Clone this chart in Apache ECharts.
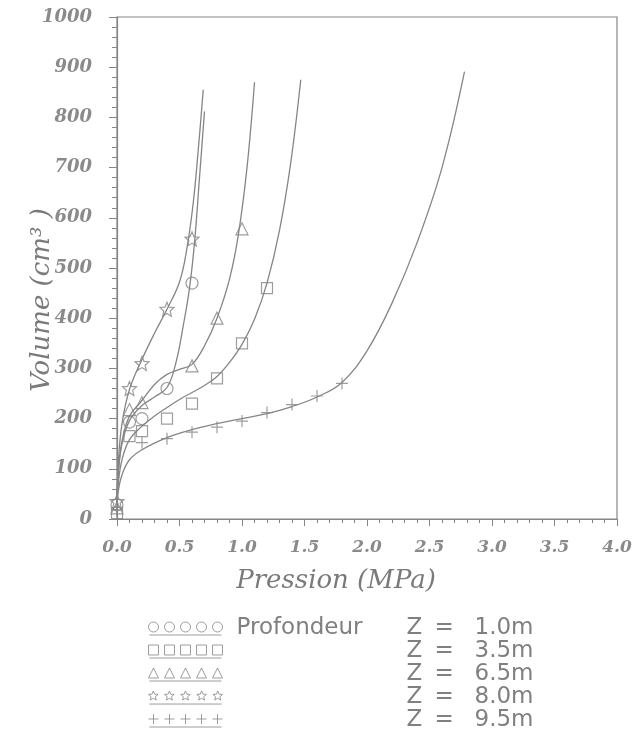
<!DOCTYPE html>
<html>
<head>
<meta charset="utf-8">
<script src="https://cdn.jsdelivr.net/npm/echarts@6/dist/echarts.min.js"></script>
<style>
  html, body { margin: 0; padding: 0; background: #fff; }
  #main { width: 644px; height: 742px; }
</style>
</head>
<body>
<div id="main"></div>
<script>
// measured points (Pression MPa, Volume cm3)
const circleP = [0, 0.1, 0.2, 0.4, 0.6];
const circleV = [28, 193, 200, 260, 470];
const squareP = [0, 0.1, 0.2, 0.4, 0.6, 0.8, 1.0, 1.2];
const squareV = [12, 165, 175, 200, 230, 280, 350, 460];
const triangleP = [0, 0.1, 0.2, 0.6, 0.8, 1.0];
const triangleV = [22, 218, 232, 305, 400, 578];
const starP = [0, 0.1, 0.2, 0.4, 0.6];
const starV = [35, 260, 310, 418, 558];
const plusP = [0, 0.2, 0.4, 0.6, 0.8, 1.0, 1.2, 1.4, 1.6, 1.8];
const plusV = [18, 152, 160, 173, 183, 195, 212, 228, 245, 270];

// fitted curves
const circleCurveP = [0, 0.01, 0.04, 0.1, 0.2, 0.3, 0.4, 0.47, 0.53, 0.58, 0.62, 0.66, 0.70];
const circleCurveV = [30, 90, 150, 196, 226, 243, 262, 310, 385, 460, 550, 680, 812];
const squareCurveP = [0, 0.01, 0.04, 0.1, 0.2, 0.3, 0.4, 0.5, 0.6, 0.7, 0.8, 0.9, 1.0, 1.1, 1.2, 1.3, 1.39, 1.47];
const squareCurveV = [30, 70, 118, 158, 185, 205, 222, 238, 252, 266, 284, 312, 348, 398, 470, 575, 710, 875];
const triangleCurveP = [0, 0.01, 0.04, 0.1, 0.2, 0.3, 0.4, 0.5, 0.6, 0.7, 0.8, 0.9, 0.97, 1.04, 1.1];
const triangleCurveV = [30, 90, 155, 205, 236, 268, 288, 298, 308, 345, 400, 478, 565, 700, 870];
const starCurveP = [0, 0.01, 0.04, 0.1, 0.2, 0.3, 0.4, 0.5, 0.56, 0.61, 0.65, 0.69];
const starCurveV = [30, 110, 190, 258, 318, 370, 418, 472, 540, 630, 735, 855];
const plusCurveP = [0, 0.01, 0.04, 0.1, 0.2, 0.4, 0.6, 0.8, 1.0, 1.2, 1.4, 1.6, 1.8, 2.0, 2.2, 2.4, 2.6, 2.78];
const plusCurveV = [30, 55, 88, 118, 138, 162, 178, 190, 200, 210, 224, 243, 272, 335, 430, 550, 700, 891];

const depthNames = ['Z = 1.0m', 'Z = 3.5m', 'Z = 6.5m', 'Z = 8.0m', 'Z = 9.5m'];
const xTicks = ['0.0', '0.5', '1.0', '1.5', '2.0', '2.5', '3.0', '3.5', '4.0'];

const ink = '#858585';
const textInk = '#7a7a7a';

function zip(a, b) {
  return a.map(function (v, i) { return [v, b[i]]; });
}

// small shape paths (centre cx,cy, radius r)
function shape(kind, cx, cy, r) {
  if (kind === 'circle') {
    return 'M' + (cx - r) + ',' + cy + ' a' + r + ',' + r + ' 0 1,0 ' + (2 * r) + ',0 a' + r + ',' + r + ' 0 1,0 ' + (-2 * r) + ',0 Z';
  }
  if (kind === 'square') {
    return 'M' + (cx - r) + ',' + (cy - r) + ' h' + (2 * r) + ' v' + (2 * r) + ' h' + (-2 * r) + ' Z';
  }
  if (kind === 'triangle') {
    return 'M' + cx + ',' + (cy - r) + ' L' + (cx + r) + ',' + (cy + r) + ' L' + (cx - r) + ',' + (cy + r) + ' Z';
  }
  if (kind === 'star') {
    let d = '';
    for (let k = 0; k < 10; k++) {
      const rr = k % 2 === 0 ? r : r * 0.45;
      const a = -Math.PI / 2 + k * Math.PI / 5;
      d += (k === 0 ? 'M' : 'L') + (cx + rr * Math.cos(a)).toFixed(2) + ',' + (cy + rr * Math.sin(a)).toFixed(2) + ' ';
    }
    return d + 'Z';
  }
  // plus
  return 'M' + (cx - r) + ',' + cy + ' L' + (cx + r) + ',' + cy + ' M' + cx + ',' + (cy - r) + ' L' + cx + ',' + (cy + r);
}

function symbolPath(kind) {
  return 'path://' + shape(kind, 6, 6, 6);
}

function legendIcon(kind) {
  let d = '';
  for (let k = 0; k < 5; k++) {
    d += shape(kind, 5 + k * 16, 5, 5) + ' ';
  }
  d += 'M1,13 L73,13';
  return 'path://' + d;
}

const kinds = ['circle', 'square', 'triangle', 'star', 'plus'];
const points = [zip(circleP, circleV), zip(squareP, squareV), zip(triangleP, triangleV), zip(starP, starV), zip(plusP, plusV)];
const curves = [zip(circleCurveP, circleCurveV), zip(squareCurveP, squareCurveV), zip(triangleCurveP, triangleCurveV), zip(starCurveP, starCurveV), zip(plusCurveP, plusCurveV)];
const symSizes = [12, 11, 12, 14, 12];

const chart = echarts.init(document.getElementById('main'), null, { renderer: 'canvas' });

const series = [];
kinds.forEach(function (k, i) {
  series.push({
    name: 'curve' + i,
    type: 'line',
    data: curves[i],
    smooth: 0.4,
    showSymbol: false,
    silent: true,
    lineStyle: { color: ink, width: 1.3 },
    z: 2
  });
  series.push({
    name: depthNames[i],
    type: 'scatter',
    data: points[i],
    symbol: symbolPath(k),
    symbolSize: symSizes[i],
    itemStyle: { color: 'rgba(0,0,0,0)', borderColor: ink, borderWidth: 1.2 },
    z: 3
  });
});

const option = {
  backgroundColor: '#fff',
  animation: false,
  grid: {
    left: 117, right: 27, top: 17, bottom: 223,
    outerBoundsMode: 'none',
    show: true, borderColor: ink, borderWidth: 1.2
  },
  xAxis: {
    type: 'value',
    min: 0, max: 4, interval: 0.5,
    name: 'Pression (MPa)',
    nameLocation: 'middle',
    nameGap: 49,
    nameMoveOverlap: false,
    nameTextStyle: {
      fontFamily: 'DejaVu Serif', fontStyle: 'italic', fontSize: 26,
      color: textInk, padding: [0, 62, 0, 0]
    },
    axisLine: { lineStyle: { color: ink, width: 1.2 } },
    axisTick: { length: 7, lineStyle: { color: ink } },
    minorTick: { show: true, splitNumber: 5, length: 4, lineStyle: { color: ink } },
    splitLine: { show: false },
    axisLabel: {
      margin: 20,
      fontFamily: 'DejaVu Serif', fontStyle: 'italic', fontWeight: 'bold', fontSize: 17,
      color: '#8a8a8a',
      formatter: function (v) { return xTicks[Math.round(v * 2)]; }
    }
  },
  yAxis: {
    type: 'value',
    min: 0, max: 1000, interval: 100,
    name: 'Volume (cm³ )',
    nameLocation: 'middle',
    nameGap: 62,
    nameRotate: 90,
    nameMoveOverlap: false,
    nameTextStyle: {
      fontFamily: 'DejaVu Serif', fontStyle: 'italic', fontSize: 26,
      color: textInk, padding: [0, 64, 0, 0]
    },
    axisLine: { show: true, lineStyle: { color: ink, width: 1.2 } },
    axisTick: { show: true, length: 8, lineStyle: { color: ink } },
    minorTick: { show: true, splitNumber: 5, length: 5, lineStyle: { color: ink } },
    splitLine: { show: false },
    axisLabel: {
      margin: 25,
      fontFamily: 'DejaVu Serif', fontStyle: 'italic', fontWeight: 'bold', fontSize: 18,
      color: '#8a8a8a',
      formatter: function (v) { return String(v); }
    }
  },
  legend: {
    orient: 'vertical',
    left: 148,
    top: 617,
    height: 124,
    padding: 0,
    itemWidth: 74,
    itemHeight: 14,
    itemGap: 0,
    selectedMode: false,
    data: depthNames.map(function (n, i) {
      return {
        name: n,
        icon: legendIcon(kinds[i]),
        itemStyle: { color: 'rgba(0,0,0,0)', borderColor: ink, borderWidth: 1 }
      };
    }),
    formatter: function (name) {
      const i = depthNames.indexOf(name);
      const parts = name.split(' ');
      return '{s|}' + (i === 0 ? '{p|Profondeur}' : '{p|}') + '{z|' + parts[0] + '}{e|' + parts[1] + '}{v|' + parts[2] + '}';
    },
    textStyle: {
      fontFamily: 'DejaVu Sans', fontSize: 23, color: '#808080', lineHeight: 23,
      rich: {
        s: { width: 9, lineHeight: 23 },
        p: { width: 170, lineHeight: 23 },
        z: { width: 28, lineHeight: 23 },
        e: { width: 40, lineHeight: 23 },
        v: { lineHeight: 23 }
      }
    }
  },
  series: series
};

chart.setOption(option);
</script>
</body>
</html>
